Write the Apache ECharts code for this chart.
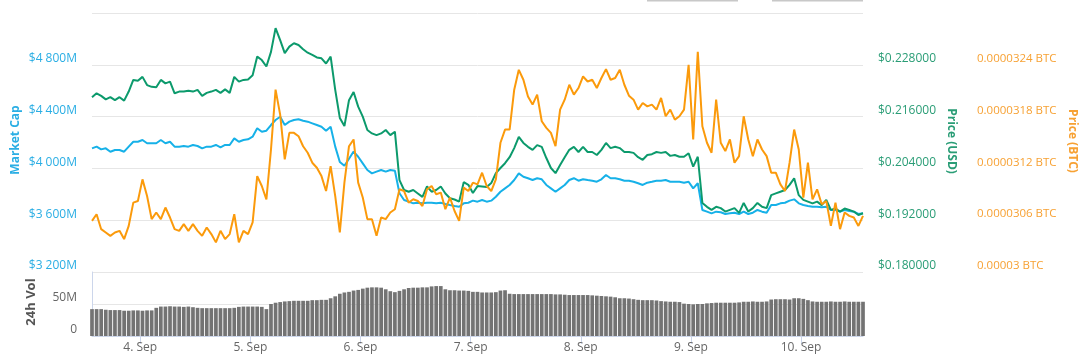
<!DOCTYPE html>
<html><head><meta charset="utf-8">
<script src="https://cdn.jsdelivr.net/npm/echarts@6/dist/echarts.min.js"></script>
<style>html,body{margin:0;padding:0;background:#fff}#c{width:1087px;height:360px}</style>
</head><body><div id="c"></div>
<script>
// Hourly samples starting Sep 3, 13:30 (x values are hours since Sep 3 00:00)
const startHour = 13.5;
const dayTicks = [24, 48, 72, 96, 120, 144, 168];
const dayLabels = ['4. Sep', '5. Sep', '6. Sep', '7. Sep', '8. Sep', '9. Sep', '10. Sep'];

// Market cap, millions USD
const marketCap = [
4155,4168,4147,4155,4129,4142,4142,4129,4168,4206,
4206,4219,4194,4194,4194,4219,4194,4206,4168,4168,
4173,4168,4181,4173,4155,4168,4168,4181,4163,4181,
4181,4232,4206,4219,4225,4245,4310,4283,4291,4335,
4374,4399,4335,4361,4374,4379,4368,4361,4348,4335,
4322,4291,4322,4168,4050,4020,4075,4130,4090,4039,
3988,3962,3975,3988,3975,3988,3982,3808,3756,3743,
3730,3735,3730,3735,3735,3730,3735,3725,3717,3710,
3704,3730,3735,3751,3743,3756,3743,3751,3781,3820,
3846,3872,3910,3962,3936,3924,3910,3924,3916,3872,
3846,3820,3846,3872,3910,3924,3905,3916,3910,3905,
3897,3916,3949,3924,3924,3916,3905,3905,3897,3885,
3872,3890,3897,3905,3905,3910,3897,3897,3897,3890,
3897,3846,3885,3679,3666,3653,3666,3661,3648,3653,
3658,3648,3666,3648,3658,3679,3666,3658,3717,3717,
3730,3735,3751,3761,3730,3717,3710,3704,3704,3700,
3704,3679,3679,3666,3679,3671,3666,3648,3653];

// Price in USD
const priceUsd = [
0.2205,0.2214,0.2208,0.2200,0.2205,0.2198,0.2205,0.2197,0.2218,0.2245,
0.2243,0.2252,0.2233,0.2229,0.2228,0.2245,0.2237,0.2241,0.2214,0.2218,
0.2218,0.2220,0.2218,0.2222,0.2208,0.2215,0.2218,0.2222,0.2215,0.2223,
0.2215,0.2252,0.2241,0.2245,0.2246,0.2256,0.2299,0.2291,0.2276,0.2310,
0.2365,0.2337,0.2307,0.2322,0.2330,0.2326,0.2316,0.2308,0.2303,0.2297,
0.2295,0.2283,0.2299,0.2222,0.2157,0.2138,0.2198,0.2217,0.2183,0.2160,
0.2129,0.2121,0.2117,0.2121,0.2129,0.2117,0.2125,0.2013,0.1990,0.1986,
0.1990,0.1982,0.1974,0.1998,0.1986,0.1990,0.1998,0.1982,0.1971,0.1968,
0.1963,0.2008,0.2002,0.1983,0.1999,0.1998,0.1997,0.2006,0.2029,0.2041,
0.2052,0.2066,0.2087,0.2113,0.2099,0.2090,0.2083,0.2094,0.2090,0.2064,
0.2041,0.2029,0.2048,0.2066,0.2083,0.2090,0.2078,0.2090,0.2078,0.2078,
0.2071,0.2083,0.2099,0.2087,0.2090,0.2087,0.2078,0.2078,0.2076,0.2066,
0.2060,0.2071,0.2073,0.2078,0.2076,0.2078,0.2069,0.2071,0.2067,0.2067,
0.2075,0.2044,0.2067,0.1960,0.1951,0.1944,0.1951,0.1948,0.1940,0.1944,
0.1948,0.1937,0.1960,0.1940,0.1948,0.1960,0.1951,0.1948,0.1978,0.1982,
0.1986,0.1990,0.2002,0.2017,0.1978,0.1967,0.1963,0.1959,0.1963,0.1955,
0.1967,0.1944,0.1947,0.1940,0.1947,0.1944,0.1940,0.1932,0.1936];

// Price in BTC
const priceBtc = [
3.0592e-5,3.0669e-5,3.0496e-5,3.0458e-5,3.0419e-5,3.0458e-5,3.0477e-5,3.0381e-5,3.0534e-5,3.0804e-5,
3.0823e-5,3.1073e-5,3.0880e-5,3.0612e-5,3.0689e-5,3.0612e-5,3.0747e-5,3.0631e-5,3.0496e-5,3.0477e-5,
3.0554e-5,3.0477e-5,3.0554e-5,3.0477e-5,3.0419e-5,3.0516e-5,3.0439e-5,3.0343e-5,3.0477e-5,3.0381e-5,
3.0439e-5,3.0669e-5,3.0343e-5,3.0477e-5,3.0439e-5,3.0574e-5,3.1111e-5,3.0996e-5,3.0842e-5,3.1419e-5,
3.2112e-5,3.1823e-5,3.1304e-5,3.1612e-5,3.1612e-5,3.1573e-5,3.1457e-5,3.1381e-5,3.1266e-5,3.1208e-5,
3.1111e-5,3.0938e-5,3.1227e-5,3.0880e-5,3.0458e-5,3.1035e-5,3.1457e-5,3.1535e-5,3.1035e-5,3.0862e-5,
3.0612e-5,3.0612e-5,3.0419e-5,3.0631e-5,3.0612e-5,3.0689e-5,3.0727e-5,3.0958e-5,3.0938e-5,3.0804e-5,
3.0842e-5,3.0823e-5,3.0765e-5,3.0958e-5,3.0996e-5,3.0900e-5,3.0920e-5,3.0727e-5,3.0862e-5,3.0707e-5,
3.0592e-5,3.0977e-5,3.0938e-5,3.1035e-5,3.1015e-5,3.1150e-5,3.0996e-5,3.0938e-5,3.1073e-5,3.1497e-5,
3.1650e-5,3.1650e-5,3.2112e-5,3.2342e-5,3.2227e-5,3.2034e-5,3.1939e-5,3.2054e-5,3.1746e-5,3.1670e-5,
3.1612e-5,3.1457e-5,3.1881e-5,3.1996e-5,3.2169e-5,3.2054e-5,3.2131e-5,3.2265e-5,3.2207e-5,3.2227e-5,
3.2131e-5,3.2247e-5,3.2350e-5,3.2227e-5,3.2247e-5,3.2342e-5,3.2169e-5,3.2042e-5,3.1996e-5,3.1881e-5,
3.1958e-5,3.1919e-5,3.1939e-5,3.1881e-5,3.2016e-5,3.1804e-5,3.1881e-5,3.1765e-5,3.1804e-5,3.1881e-5,
3.2400e-5,3.1535e-5,3.2550e-5,3.1688e-5,3.1497e-5,3.1381e-5,3.1996e-5,3.1497e-5,3.1400e-5,3.1535e-5,
3.1266e-5,3.1342e-5,3.1804e-5,3.1535e-5,3.1342e-5,3.1535e-5,3.1419e-5,3.1342e-5,3.1150e-5,3.1150e-5,
3.1015e-5,3.0938e-5,3.1266e-5,3.1650e-5,3.1419e-5,3.0862e-5,3.1266e-5,3.0842e-5,3.0958e-5,3.0785e-5,
3.0823e-5,3.0534e-5,3.0804e-5,3.0496e-5,3.0689e-5,3.0650e-5,3.0631e-5,3.0534e-5,3.0650e-5];

// 24h volume, millions USD
const volume = [
42,42,42,41,40.5,40.5,40.5,39.5,39.5,40,
40,39.5,40,40,44,46,46,46.5,46,46,
45.5,46,45,44,43.5,43.5,43.5,43.5,43.5,43.5,
43.5,44,45.5,46,46,46,46,45.5,42,50,
52,53,54,54.5,55,55,55,55,56,56,
56.5,56.5,59,62,66,68,69,71,72,74,
75.5,76,76,75.5,73,70,68.5,70.5,73,75,
75.5,75.5,76,76,77.5,78,78,73,71.5,71.5,
71,71,70.5,69,69,68,68,68,68.5,71,
71.5,66,65.5,65.5,65.5,65.5,65.5,65.5,65.5,65.5,
65.5,65,65,64.5,64,64,64,64,64,63.5,
63,62.5,62,61.5,60.5,59,59,58.5,57.5,56.5,
56,56,56,55.5,54.5,54,53.5,53.5,53,50.5,
50,49.5,50,50,51,51.5,52,52,52,52,
52,52.5,53.5,53.5,54,53.5,53.5,54,57,57.5,
57.5,57.5,57,59,59,58,56,54,53.5,53.5,
53.5,54,53.5,53.5,54,53.5,53.5,53.5,53.5];

const capAxis = {min: 3200, max: 5200, interval: 400};
const usdAxis = {min: 0.18, max: 0.24, interval: 0.012};
const btcAxis = {min: 0.00003, max: 0.000033, interval: 0.0000006};
const volAxis = {min: 0, max: 100, interval: 50};

const pairs = arr => arr.map((v, i) => [startHour + i, v]);
const xMin = startHour, xMax = startHour + marketCap.length - 1;

const C_CAP = '#16b1e8', C_USD = '#0c9a6c', C_BTC = '#fb9a0b';
const FONT = 'Open Sans';
const lbl = (color) => ({color: color, fontFamily: FONT, fontSize: 12, verticalAlign: 'bottom', margin: 15});

const chart = echarts.init(document.getElementById('c'), null, {renderer: 'canvas'});
chart.setOption({
  animation: false,
  backgroundColor: '#fff',
  grid: [
    {left: 92, right: 224, top: 13, height: 259},
    {left: 92, right: 224, top: 272, height: 64}
  ],
  xAxis: [
    {type: 'value', gridIndex: 0, min: xMin, max: xMax, show: false},
    {type: 'value', gridIndex: 1, min: xMin, max: xMax,
     axisLine: {show: true, lineStyle: {color: '#ccd6eb'}},
     axisTick: {show: true, length: 8, lineStyle: {color: '#ccd6eb'}, customValues: dayTicks},
     axisLabel: {color: '#666', fontFamily: FONT, fontSize: 12, margin: 6, customValues: dayTicks,
       formatter: v => dayLabels[dayTicks.indexOf(v)] || ''},
     splitLine: {show: false}}
  ],
  yAxis: [
    {type: 'value', gridIndex: 0, position: 'left', min: capAxis.min, max: capAxis.max, interval: capAxis.interval,
     axisLine: {show: false}, axisTick: {show: false},
     splitLine: {lineStyle: {color: '#e6e6e6'}},
     axisLabel: Object.assign(lbl('#2aaee4'), {formatter: v => v >= capAxis.max ? '' :
       '$' + String(v).replace(/\B(?=(\d{3})+(?!\d))/g, ' ') + 'M'})},
    {type: 'value', gridIndex: 0, position: 'right', min: usdAxis.min, max: usdAxis.max, interval: usdAxis.interval,
     axisLine: {show: false}, axisTick: {show: false}, splitLine: {show: false},
     axisLabel: Object.assign(lbl('#2a9d76'), {formatter: v => v >= usdAxis.max - 1e-6 ? '' : '$' + v.toFixed(6)})},
    {type: 'value', gridIndex: 0, position: 'right', offset: 99, min: btcAxis.min, max: btcAxis.max, interval: btcAxis.interval,
     axisLine: {show: false}, axisTick: {show: false}, splitLine: {show: false},
     axisLabel: Object.assign(lbl('#f7a133'), {fontSize: 11.5, formatter: v => v >= btcAxis.max - 1e-9 ? '' : String(Number(v.toFixed(8))) + ' BTC'})},
    {type: 'value', gridIndex: 1, position: 'left', min: volAxis.min, max: volAxis.max, interval: volAxis.interval,
     axisLine: {show: true, lineStyle: {color: '#ccd6eb'}}, axisTick: {show: false},
     splitLine: {lineStyle: {color: '#e6e6e6'}},
     axisLabel: Object.assign(lbl('#666'), {formatter: v => v === 0 ? '0' : (v >= volAxis.max ? '' : v + 'M')})}
  ],
  series: [
    {name: 'Market Cap', type: 'line', xAxisIndex: 0, yAxisIndex: 0, data: pairs(marketCap),
     showSymbol: false, lineStyle: {color: C_CAP, width: 2}, itemStyle: {color: C_CAP}},
    {name: 'Price (USD)', type: 'line', xAxisIndex: 0, yAxisIndex: 1, data: pairs(priceUsd),
     showSymbol: false, lineStyle: {color: C_USD, width: 2}, itemStyle: {color: C_USD}},
    {name: 'Price (BTC)', type: 'line', xAxisIndex: 0, yAxisIndex: 2, data: pairs(priceBtc),
     showSymbol: false, lineStyle: {color: C_BTC, width: 2}, itemStyle: {color: C_BTC}},
    {name: '24h Vol', type: 'bar', xAxisIndex: 1, yAxisIndex: 3, data: pairs(volume),
     barWidth: 3.7, clip: true, itemStyle: {color: '#737373'}}
  ],
  graphic: [
    {type: 'rect', shape: {x: 647, y: 0, width: 91, height: 1.5}, style: {fill: '#c8c8c8'}},
    {type: 'rect', shape: {x: 772, y: 0, width: 91, height: 1.5}, style: {fill: '#c8c8c8'}},
    {type: 'text', x: 16, y: 140, rotation: Math.PI / 2,
     style: {text: 'Market Cap', fill: '#2aaee4', font: 'bold 12px "Open Sans"', textAlign: 'center', textVerticalAlign: 'middle'}},
    {type: 'text', x: 31, y: 302, rotation: Math.PI / 2,
     style: {text: '24h Vol', fill: '#555', font: 'bold 13px "Open Sans"', textAlign: 'center', textVerticalAlign: 'middle'}},
    {type: 'text', x: 951, y: 141, rotation: -Math.PI / 2,
     style: {text: 'Price (USD)', fill: '#2a9d76', font: 'bold 12px "Open Sans"', textAlign: 'center', textVerticalAlign: 'middle'}},
    {type: 'text', x: 1072, y: 141, rotation: -Math.PI / 2,
     style: {text: 'Price (BTC)', fill: '#f7a133', font: 'bold 12px "Open Sans"', textAlign: 'center', textVerticalAlign: 'middle'}}
  ]
});
</script>
</body></html>
